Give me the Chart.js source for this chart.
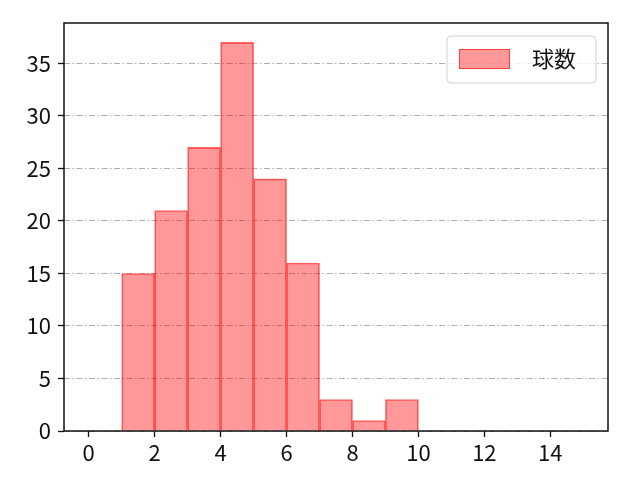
<!DOCTYPE html>
<html lang="ja">
<head>
    <meta charset="UTF-8">
    <title>球数</title>
    <script src="https://cdn.jsdelivr.net/npm/chart.js"></script>
    <style>
        body { margin: 0; background: #fff; }
    </style>
</head>
<body>
    <canvas id="histChart" width="640" height="480"></canvas>
    <script>
        // histogram bins (left edges) and counts
        const binStarts = [1, 2, 3, 4, 5, 6, 7, 8, 9];
        const counts = [15, 21, 27, 37, 24, 16, 3, 1, 3];
        const seriesLabel = '球数';
        const xTicks = [0, 2, 4, 6, 8, 10, 12, 14];
        const yTicks = [0, 5, 10, 15, 20, 25, 30, 35];

        const FONT = '"Noto Sans CJK JP", "Noto Sans", sans-serif';

        // draws the black frame around the plot and the boxed legend
        const framePlugin = {
            id: 'frame',
            afterDraw(chart) {
                const { ctx, chartArea: a } = chart;
                ctx.save();
                ctx.strokeStyle = '#111';
                ctx.lineWidth = 1.5;
                ctx.strokeRect(a.left, a.top, a.right - a.left, a.bottom - a.top);

                // legend box, top right
                const ds = chart.data.datasets[0];
                const bx = 447, by = 36, bw = 149, bh = 47, r = 4;
                ctx.beginPath();
                ctx.roundRect(bx, by, bw, bh, r);
                ctx.fillStyle = 'rgba(255,255,255,0.8)';
                ctx.fill();
                ctx.strokeStyle = '#d0d0d0';
                ctx.lineWidth = 1;
                ctx.stroke();

                ctx.fillStyle = ds.backgroundColor;
                ctx.fillRect(459, 49, 51, 20);
                ctx.strokeStyle = ds.borderColor;
                ctx.strokeRect(459.5, 49.5, 50, 19);

                ctx.fillStyle = '#111';
                ctx.font = '22px ' + FONT;
                ctx.textBaseline = 'middle';
                ctx.fillText(ds.label, 532, 59);
                ctx.restore();
            }
        };

        const ctx = document.getElementById('histChart').getContext('2d');
        const histChart = new Chart(ctx, {
            type: 'bar',
            data: {
                datasets: [{
                    label: seriesLabel,
                    data: binStarts.map((b, i) => ({ x: b + 0.5, y: counts[i] })),
                    backgroundColor: 'rgba(255, 0, 0, 0.4)',
                    borderColor: 'rgba(255, 0, 0, 0.6)',
                    borderWidth: 1,
                    barPercentage: 1,
                    categoryPercentage: 1
                }]
            },
            options: {
                responsive: false,
                animation: false,
                devicePixelRatio: 1,
                layout: { padding: { top: 23, right: 32, left: 0, bottom: 0 } },
                plugins: {
                    legend: { display: false },
                    tooltip: { enabled: false }
                },
                scales: {
                    x: {
                        type: 'linear',
                        min: -0.75,
                        max: 15.75,
                        offset: false,
                        afterBuildTicks: s => { s.ticks = xTicks.map(v => ({ value: v })); },
                        afterFit: s => { s.height = 49; },
                        border: { display: false },
                        grid: {
                            offset: false,
                            drawOnChartArea: false,
                            drawTicks: true,
                            tickLength: 6,
                            tickColor: '#111',
                            tickWidth: 1.3
                        },
                        ticks: {
                            color: '#111',
                            padding: 2,
                            maxRotation: 0,
                            font: { family: FONT, size: 22 }
                        }
                    },
                    y: {
                        min: 0,
                        max: 38.85,
                        z: 1,
                        afterBuildTicks: s => { s.ticks = yTicks.map(v => ({ value: v })); },
                        afterFit: s => { s.width = 64; },
                        border: { display: false, dash: [6, 2.5, 1.5, 2.5] },
                        grid: {
                            color: '#b0b0b0',
                            lineWidth: 1,
                            tickLength: 6,
                            tickColor: '#111',
                            tickWidth: 1.3,
                            tickBorderDash: []
                        },
                        ticks: {
                            color: '#111',
                            padding: 7,
                            font: { family: FONT, size: 22 }
                        }
                    }
                }
            },
            plugins: [framePlugin]
        });
    </script>
</body>
</html>
